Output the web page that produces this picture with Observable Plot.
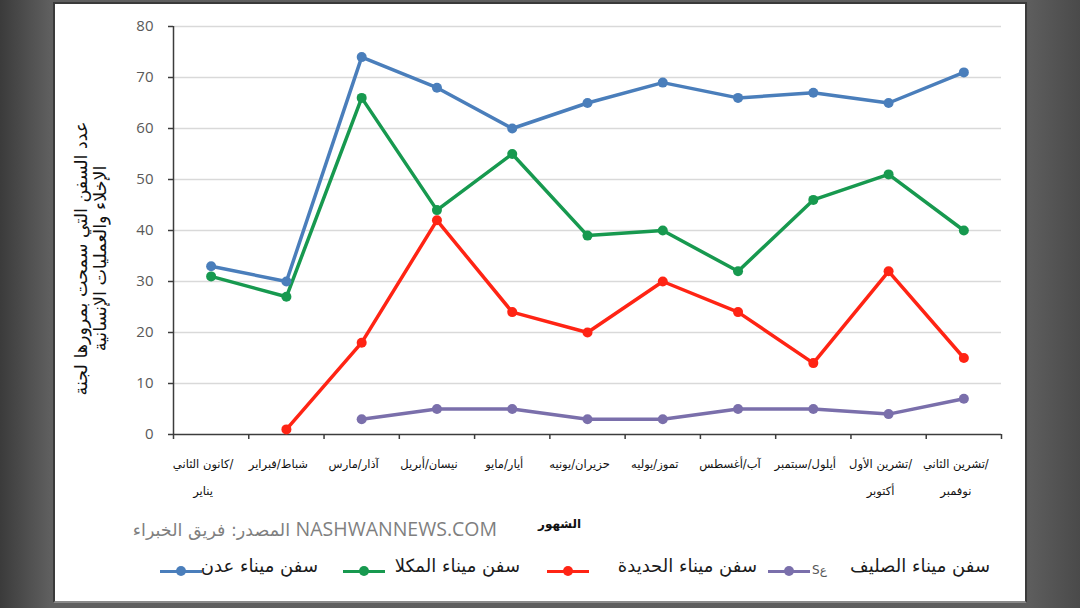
<!DOCTYPE html>
<html>
<head>
<meta charset="utf-8">
<script src="https://cdn.jsdelivr.net/npm/d3@7"></script>
<script src="https://cdn.jsdelivr.net/npm/@observablehq/plot@0.6"></script>
<style>
  html, body { margin: 0; padding: 0; }
  body {
    width: 1080px; height: 608px; overflow: hidden; position: relative;
    background: linear-gradient(to right, #3b3b3b 0px, #5f5f5f 50px, #5d5d5d 1030px, #4a4a4a 1080px);
    font-family: "DejaVu Sans", sans-serif;
  }
  #panel {
    position: absolute; left: 53px; top: 2px; width: 974px; height: 601px;
    background: #ffffff; box-sizing: border-box; border: 2px solid #3a3a3a; border-bottom-color: #8a8a8a;
  }
  #chart { position: absolute; left: 0; top: 0; }
  .abs { position: absolute; white-space: nowrap; }
  .legtext { font-size: 18px; color: #1a1a1a; direction: rtl; }
  .mk { position: absolute; height: 3px; }
  .mkdot { position: absolute; width: 10px; height: 10px; border-radius: 50%; }
</style>
</head>
<body>
<div id="panel"></div>
<div id="chart"></div>
<div id="extras"></div>
<script>
const months = [
  "كانون الثاني/\nيناير", "شباط/فبراير", "آذار/مارس", "نيسان/أبريل", "أيار/مايو",
  "حزيران/يونيه", "تموز/يوليه", "آب/أغسطس", "أيلول/سبتمبر",
  "تشرين الأول/\nأكتوبر", "تشرين الثاني/\nنوفمبر"
];
const aden     = [33, 30, 74, 68, 60, 65, 69, 66, 67, 65, 71];
const mukalla  = [31, 27, 66, 44, 55, 39, 40, 32, 46, 51, 40];
const hodeidah = [null, 1, 18, 42, 24, 20, 30, 24, 14, 32, 15];
const salif    = [null, null, 3, 5, 5, 3, 3, 5, 5, 4, 7];
const seriesNames = ["سفن ميناء عدن", "سفن ميناء المكلا", "سفن ميناء الحديدة", "سفن ميناء الصليف"];
const seriesColors = ["#4a7ebb", "#17994f", "#ff2414", "#7a6fab"];
const yTicks = [0, 10, 20, 30, 40, 50, 60, 70, 80];
const yTitle = "عدد السفن التي سمحت بمرورها لجنة\nالإخلاء والعمليات الإنسانية";
const xTitle = "الشهور";
const sourceArabic = "المصدر: فريق الخبراء";
const sourceLatin = "NASHWANNEWS.COM";
const legendArtifact = "Sع";

const allSeries = [aden, mukalla, hodeidah, salif];
const rows = [];
allSeries.forEach((vals, s) => vals.forEach((v, i) => {
  if (v != null) rows.push({series: seriesNames[s], i, v});
}));

const chart = Plot.plot({
  width: 1080, height: 608,
  marginLeft: 173, marginRight: 79, marginTop: 26, marginBottom: 174,
  style: {background: "transparent", overflow: "visible"},
  x: {domain: [0, months.length], label: null},
  y: {domain: [0, 80], label: null},
  color: {domain: seriesNames, range: seriesColors},
  marks: [
    Plot.gridY(yTicks.filter(t => t > 0), {stroke: "#d9d9d9", strokeOpacity: 1, strokeWidth: 1.5}),
    Plot.ruleY([0], {stroke: "#3c3c3c", strokeWidth: 1.5}),
    Plot.ruleX([0], {stroke: "#3c3c3c", strokeWidth: 1.5}),
    Plot.axisY(yTicks, {tickSize: 5, tickFormat: () => "", label: null, stroke: "#3c3c3c", strokeWidth: 1.5}),
    Plot.axisY(yTicks, {tickSize: 0, tickPadding: 20, label: null, color: "#595959", fontSize: 15, fontFamily: "Open Sans, sans-serif"}),
    Plot.axisX(d3.range(months.length + 1), {tickSize: 5, tickFormat: () => "", label: null, stroke: "#3c3c3c", strokeWidth: 1.5}),
    Plot.text(months, {
      x: (d, i) => i + 0.5, y: () => 0, text: d => d,
      dy: 15, dx: -8, lineAnchor: "top", lineHeight: 2.3,
      fontSize: 11.5, fill: "#111", fontFamily: "DejaVu Sans, sans-serif"
    }),
    Plot.text([yTitle], {
      frameAnchor: "left", text: d => d, rotate: -90, dx: -83, dy: 28,
      textAnchor: "middle", lineAnchor: "middle", lineHeight: 1.1, fontSize: 17.5, fill: "#111",
      fontFamily: "DejaVu Sans, sans-serif"
    }),
    Plot.line(rows, {x: d => d.i + 0.5, y: "v", z: "series", stroke: "series", strokeWidth: 3.5}),
    Plot.dot(rows, {x: d => d.i + 0.5, y: "v", fill: "series", r: 5})
  ]
});
document.getElementById("chart").appendChild(chart);

// Source, x title and legend below the plot
const ex = document.getElementById("extras");
function add(text, style, cls) {
  const el = document.createElement("div");
  el.className = "abs " + (cls || "");
  el.setAttribute("style", style);
  el.textContent = text;
  ex.appendChild(el);
  return el;
}
const src = document.createElement("div");
src.className = "abs";
src.setAttribute("style", "right:583px; top:515px; color:#7f7f7f; direction:rtl;");
const sLat = document.createElement("span");
sLat.textContent = sourceLatin;
sLat.setAttribute("style", "font-family:'Open Sans',sans-serif; font-size:19.5px;");
const sAr = document.createElement("span");
sAr.textContent = " " + sourceArabic;
sAr.setAttribute("style", "font-family:'DejaVu Sans',sans-serif; font-size:17.5px;");
src.appendChild(sLat); src.appendChild(sAr);
ex.appendChild(src);

add(xTitle, "left:538px; top:517px; font-size:12px; font-weight:bold; color:#111; direction:rtl;");

const legendLayout = [
  {mk: 160, txtRight: 318},
  {mk: 343, txtRight: 520},
  {mk: 547, txtRight: 757},
  {mk: 768, txtRight: 990}
];
seriesNames.forEach((name, s) => {
  const L = legendLayout[s];
  const line = document.createElement("div");
  line.className = "mk";
  line.setAttribute("style", `left:${L.mk}px; top:570px; width:42px; background:${seriesColors[s]};`);
  ex.appendChild(line);
  const dot = document.createElement("div");
  dot.className = "mkdot";
  dot.setAttribute("style", `left:${L.mk + 16}px; top:566px; background:${seriesColors[s]};`);
  ex.appendChild(dot);
  add(name, `right:${1080 - L.txtRight}px; top:555px;`, "legtext");
});
add(legendArtifact, "left:812px; top:563px; font-size:12px; color:#555;");
</script>
</body>
</html>
